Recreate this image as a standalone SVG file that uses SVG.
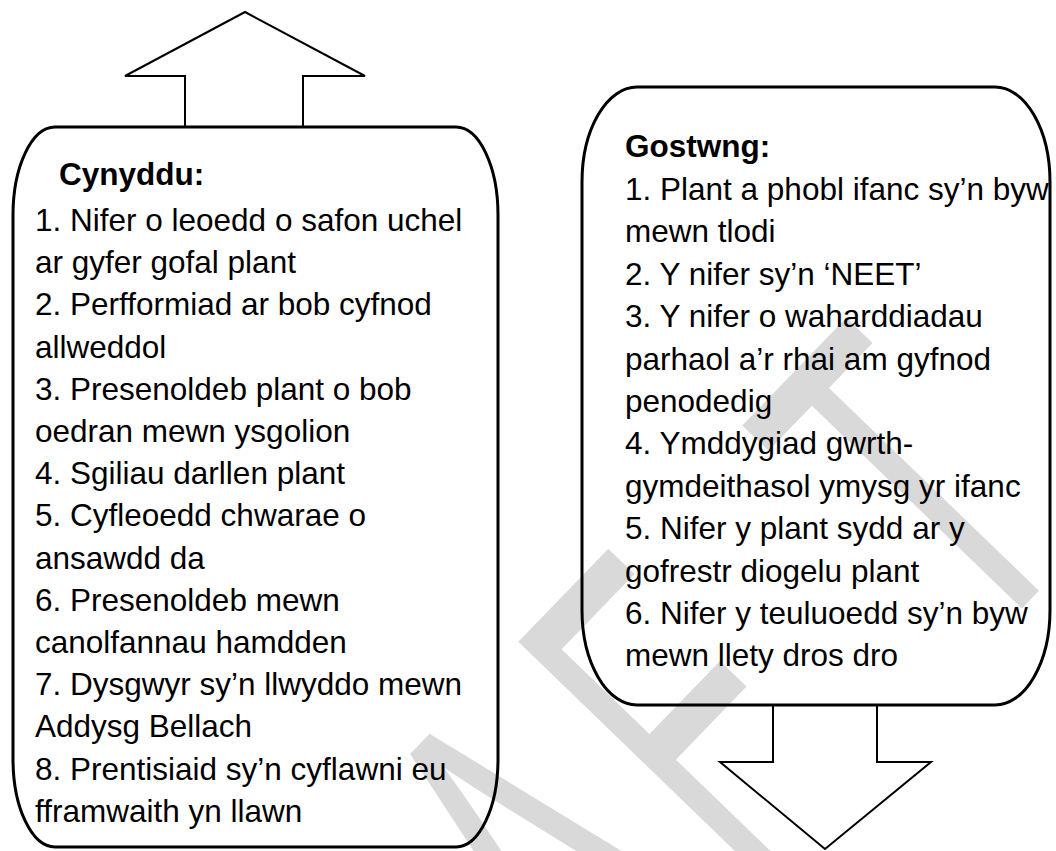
<svg xmlns="http://www.w3.org/2000/svg" width="1056" height="851" viewBox="0 0 1056 851">
  <style>
    .box { fill: none; stroke: #000; stroke-width: 3; }
    .arrow { fill: none; stroke: #000; stroke-width: 2; stroke-linejoin: miter; }
    .t { font-family: "Liberation Sans", Arial, sans-serif; font-size: 31.5px; fill: #000; }
    .h { font-weight: bold; }
    .wm { font-family: "Liberation Sans", Arial, sans-serif; font-size: 265px; fill: #d9d9d9; }
  </style>
  <rect x="0" y="0" width="1056" height="851" fill="#fff"/>
  <g id="watermark">
    <text class="wm" transform="translate(594.1,1035.8) rotate(-46) scale(1,1.8)" x="-520 -290 0 209 536" y="0 0 0 0 6">DRAFT</text>
  </g>
  <g id="connectors">
    <path class="arrow" d="M185,126 V76 H125 L245,12 L365,76 H303 V126"/>
    <path class="arrow" d="M773,705 V762 H720 L825,849 L931,762 H877 V705"/>
  </g>
  <g id="node-cynyddu">
    <rect class="box" x="13" y="127" width="485" height="720" rx="42" ry="88"/>
    <text class="t h" x="59" y="185">Cynyddu:</text>
    <text class="t" x="35" y="231">1. Nifer o leoedd o safon uchel</text>
    <text class="t" x="35" y="273.2">ar gyfer gofal plant</text>
    <text class="t" x="35" y="315.4">2. Perfformiad ar bob cyfnod</text>
    <text class="t" x="35" y="357.6">allweddol</text>
    <text class="t" x="35" y="399.8">3. Presenoldeb plant o bob</text>
    <text class="t" x="35" y="442">oedran mewn ysgolion</text>
    <text class="t" x="35" y="484.2">4. Sgiliau darllen plant</text>
    <text class="t" x="35" y="526.4">5. Cyfleoedd chwarae o</text>
    <text class="t" x="35" y="568.6">ansawdd da</text>
    <text class="t" x="35" y="610.8">6. Presenoldeb mewn</text>
    <text class="t" x="35" y="653">canolfannau hamdden</text>
    <text class="t" x="35" y="695.2">7. Dysgwyr sy’n llwyddo mewn</text>
    <text class="t" x="35" y="737.4">Addysg Bellach</text>
    <text class="t" x="35" y="779.6">8. Prentisiaid sy’n cyflawni eu</text>
    <text class="t" x="35" y="821.8">fframwaith yn llawn</text>
  </g>
  <g id="node-gostwng">
    <rect class="box" x="582" y="87" width="468" height="618" rx="55" ry="95"/>
    <text class="t h" x="625" y="157">Gostwng:</text>
    <text class="t" x="625" y="200">1. Plant a phobl ifanc sy’n byw</text>
    <text class="t" x="625" y="242.4">mewn tlodi</text>
    <text class="t" x="625" y="284.8">2. Y nifer sy’n ‘NEET’</text>
    <text class="t" x="625" y="327.2">3. Y nifer o waharddiadau</text>
    <text class="t" x="625" y="369.6">parhaol a’r rhai am gyfnod</text>
    <text class="t" x="625" y="412">penodedig</text>
    <text class="t" x="625" y="454.4">4. Ymddygiad gwrth-</text>
    <text class="t" x="625" y="496.8">gymdeithasol ymysg yr ifanc</text>
    <text class="t" x="625" y="539.2">5. Nifer y plant sydd ar y</text>
    <text class="t" x="625" y="581.6">gofrestr diogelu plant</text>
    <text class="t" x="625" y="624">6. Nifer y teuluoedd sy’n byw</text>
    <text class="t" x="625" y="666.4">mewn llety dros dro</text>
  </g>
</svg>
